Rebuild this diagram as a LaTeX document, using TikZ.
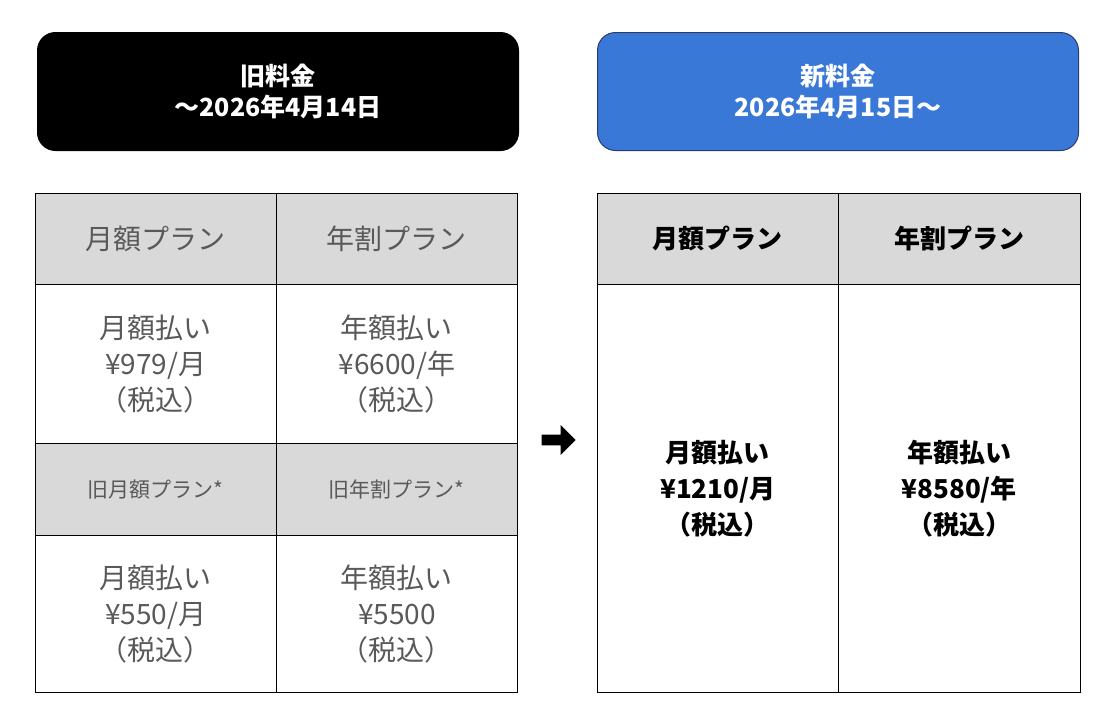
\documentclass[tikz,border=0pt]{standalone}
\usepackage{fontspec}
\setmainfont{Noto Sans CJK JP}
\usetikzlibrary{shapes.arrows}
\definecolor{head_gray}{RGB}{217,217,217}
\definecolor{text_gray}{RGB}{89,89,89}
\definecolor{title_blue}{RGB}{58,120,216}
\definecolor{edge_blue}{RGB}{40,60,110}

\begin{document}
\begin{tikzpicture}[x=1pt,y=-1pt]
    \tikzstyle{title}=[draw=black, rounded corners=18pt, line width=1pt, minimum width=481pt, minimum height=118pt, text=white, font=\fontsize{25}{31}\selectfont\bfseries, align=center, anchor=north west]
    \tikzstyle{cell}=[draw=black, line width=0.8pt, anchor=north west, align=center, inner sep=0pt]
    \tikzstyle{head}=[style=cell, fill=head_gray]
    \tikzstyle{old}=[text=text_gray, font=\fontsize{28}{36}\selectfont]
    \tikzstyle{new}=[text=black, font=\fontsize{26}{36}\selectfont\bfseries]

    \useasboundingbox (0,0) rectangle (1112,716);

    \node[title, fill=black] (oldtitle) at (37,32) {旧料金\\～2026年4月14日};
    \node[title, fill=title_blue, draw=edge_blue] (newtitle) at (597,32) {新料金\\2026年4月15日～};

    % old table
    \node[head, old, minimum width=241pt, minimum height=91pt] (oh1) at (35,193) {月額プラン};
    \node[head, old, minimum width=241pt, minimum height=91pt] (oh2) at (276,193) {年割プラン};
    \node[cell, old, minimum width=241pt, minimum height=159pt] (ob1) at (35,284) {月額払い\\¥979/月\\（税込）};
    \node[cell, old, minimum width=241pt, minimum height=159pt] (ob2) at (276,284) {年額払い\\¥6600/年\\（税込）};
    \node[head, old, minimum width=241pt, minimum height=92pt, font=\fontsize{21}{26}\selectfont] (oh3) at (35,443) {旧月額プラン*};
    \node[head, old, minimum width=241pt, minimum height=92pt, font=\fontsize{21}{26}\selectfont] (oh4) at (276,443) {旧年割プラン*};
    \node[cell, old, minimum width=241pt, minimum height=157pt] (ob3) at (35,535) {月額払い\\¥550/月\\（税込）};
    \node[cell, old, minimum width=241pt, minimum height=157pt] (ob4) at (276,535) {年額払い\\¥5500\\（税込）};

    % arrow
    \node[single arrow, fill=black, minimum height=34pt, minimum width=30pt, single arrow head extend=4pt, inner sep=2pt] (arrow) at (556,440) {};

    % new table
    \node[head, new, minimum width=241pt, minimum height=91pt] (nh1) at (597,193) {月額プラン};
    \node[head, new, minimum width=242pt, minimum height=91pt] (nh2) at (838,193) {年割プラン};
    \node[cell, new, minimum width=241pt, minimum height=408pt] (nb1) at (597,284) {月額払い\\¥1210/月\\（税込）};
    \node[cell, new, minimum width=242pt, minimum height=408pt] (nb2) at (838,284) {年額払い\\¥8580/年\\（税込）};
\end{tikzpicture}
\end{document}
